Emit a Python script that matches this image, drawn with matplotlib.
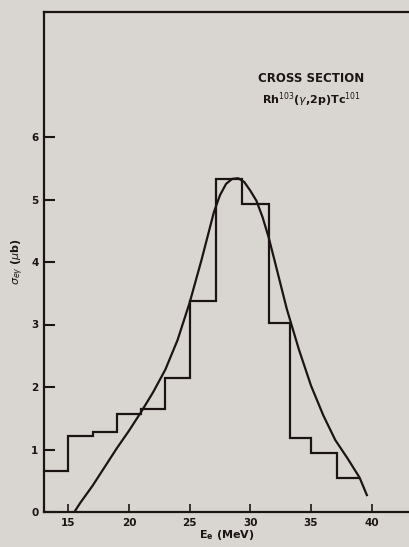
import matplotlib
matplotlib.use("Agg")
import matplotlib.pyplot as plt

# Histogram (measured cross section)
bin_edges = [13, 15, 17, 19, 21, 23, 25, 27.2, 29.3, 31.5, 33.3, 35, 37.1, 39]
bin_values = [0.65, 1.22, 1.28, 1.57, 1.65, 2.14, 3.38, 5.33, 4.93, 3.03, 1.18, 0.94, 0.55]

# Smooth curve
curve_x = [15.5, 16, 17, 18, 19, 20, 21, 22, 23, 24, 25, 26, 27, 27.5, 28, 28.5, 29,
           29.5, 30, 30.5, 31, 31.5, 32, 33, 34, 35, 36, 37, 38, 39, 39.6]
curve_y = [0.0, 0.15, 0.42, 0.72, 1.02, 1.30, 1.60, 1.92, 2.28, 2.75, 3.35, 4.05, 4.80,
           5.07, 5.25, 5.33, 5.34, 5.28, 5.14, 4.98, 4.72, 4.40, 4.02, 3.25, 2.60, 2.02,
           1.55, 1.15, 0.86, 0.55, 0.27]

x_ticks = [15, 20, 25, 30, 35, 40]
y_ticks = [0, 1, 2, 3, 4, 5, 6]

bg = "#d9d6d1"
ink = "#1c1414"

fig = plt.figure(figsize=(4.09, 5.47), dpi=100, facecolor=bg)
ax = fig.add_axes([44/409, 35/547, 1 - 44/409, 500/547])
ax.set_facecolor(bg)

ax.stairs(bin_values, bin_edges, baseline=None, color=ink, lw=1.6)
ax.plot(curve_x, curve_y, color=ink, lw=1.6)

ax.set_xlim(13, 43.07)
ax.set_ylim(0, 8)
ax.set_xticks(x_ticks)
ax.set_yticks(y_ticks)
ax.set_xticklabels([str(v) for v in x_ticks], fontweight="bold", fontsize=7.5, color=ink)
ax.set_yticklabels([str(v) for v in y_ticks], fontweight="bold", fontsize=7.5, color=ink)
ax.tick_params(axis="x", direction="in", length=6, width=1.2, color=ink, pad=4)
ax.tick_params(axis="y", direction="in", length=8, width=1.5, color=ink, pad=4)

for s in ["left", "bottom", "top"]:
    ax.spines[s].set_linewidth(1.6)
    ax.spines[s].set_color(ink)
ax.spines["right"].set_visible(False)

ax.set_xlabel(r"E$_\mathbf{e}$ (MeV)", fontweight="bold", fontsize=8, color=ink, labelpad=0)
ax.set_ylabel(r"$\sigma_{e\gamma}$ ($\mu$b)", fontweight="bold", fontsize=8, color=ink, labelpad=4)

ax.text(35.0, 6.93, "CROSS SECTION", fontweight="bold", fontsize=8.5, color=ink,
        ha="center", va="center")
ax.text(35.0, 6.6, r"Rh$^{103}$($\gamma$,2p)Tc$^{101}$", fontweight="bold", fontsize=8,
        color=ink, ha="center", va="center")

fig.savefig("out.png", dpi=100, facecolor=bg)
